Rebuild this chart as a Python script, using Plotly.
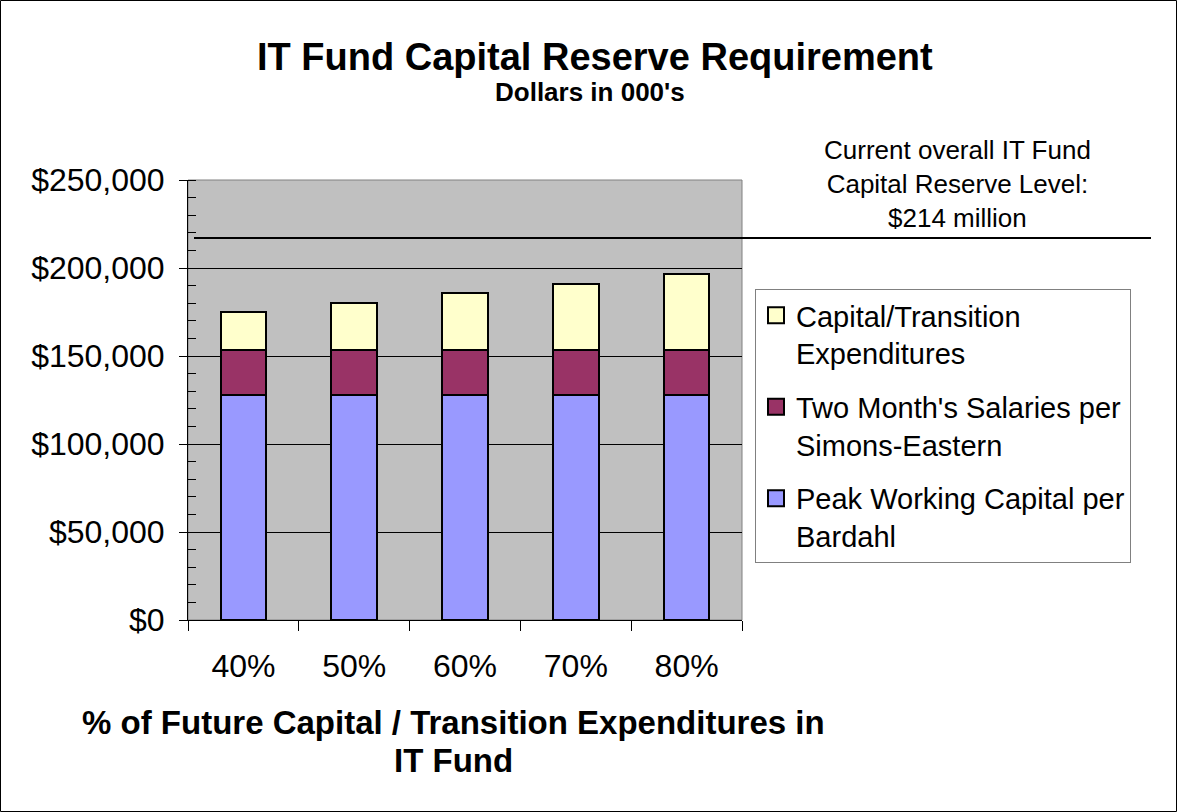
import plotly.graph_objects as go

categories = ["40%", "50%", "60%", "70%", "80%"]
peak_working_capital = [127600, 127600, 127600, 127600, 127600]
two_months_salaries = [25800, 25800, 25800, 25800, 25800]
capital_transition = [21600, 26800, 32200, 37600, 43000]
reserve_level = 217000
y_tickvals = [0, 50000, 100000, 150000, 200000, 250000]
y_ticktext = ["$0", "$50,000", "$100,000", "$150,000", "$200,000", "$250,000"]

series_names = ["Peak Working Capital per<br>Bardahl",
                "Two Month's Salaries per<br>Simons-Eastern",
                "Capital/Transition<br>Expenditures"]
series_colors = ["#9999FF", "#993366", "#FFFFCC"]
series_values = [peak_working_capital, two_months_salaries, capital_transition]

FONT = "Liberation Sans, Arial, sans-serif"

fig = go.Figure()
for name, color, vals in zip(series_names, series_colors, series_values):
    fig.add_trace(go.Bar(x=categories, y=vals, name=name, showlegend=False,
                         legendgroup=name,
                         marker=dict(color=color, line=dict(color="black", width=2))))

# legend entries (larger square swatches), top to bottom
for name, color in reversed(list(zip(series_names, series_colors))):
    fig.add_trace(go.Scatter(x=[categories[0]], y=[None], mode="markers", name=name,
                             legendgroup=name, showlegend=True, hoverinfo="skip",
                             marker=dict(symbol="square", size=16, color=color,
                                         line=dict(color="black", width=2))))

L, R, T, B = 188, 742, 180, 620
W, H = 1177, 812
pw, ph = R - L, B - T

def px_x(x):
    return (x - L) / pw

def px_y(y):
    return (B - y) / ph

fig.update_layout(
    width=W, height=H,
    margin=dict(l=L, r=W - R, t=T, b=H - B),
    barmode="stack",
    bargap=0.59,
    paper_bgcolor="white",
    plot_bgcolor="#C0C0C0",
    font=dict(family=FONT, color="black"),
    showlegend=True,
    legend=dict(x=px_x(755), y=px_y(289), xanchor="left", yanchor="top",
                bgcolor="white", bordercolor="#808080", borderwidth=1,
                font=dict(size=29, family=FONT), valign="top",
                traceorder="grouped", tracegroupgap=13, itemsizing="trace"),
    xaxis=dict(type="category", tickson="boundaries", ticks="outside", ticklen=10,
               tickcolor="black", tickwidth=1, showline=True, linecolor="black",
               linewidth=1, showgrid=False, tickfont=dict(size=32, family=FONT),
               ticklabelstandoff=18),
    yaxis=dict(range=[0, 250000], tickvals=y_tickvals, ticktext=y_ticktext,
               ticks="outside", ticklen=8, tickcolor="black", tickwidth=1,
               showline=True, linecolor="black", linewidth=1,
               showgrid=True, gridcolor="black", gridwidth=1,
               tickfont=dict(size=32, family=FONT), ticklabelstandoff=8,
               zeroline=False,
               minor=dict(dtick=10000, ticks="inside", ticklen=8, tickcolor="black",
                          showgrid=False)),
)

shapes = [
    # plot area border
    dict(type="rect", xref="paper", yref="paper", x0=0, x1=1, y0=0, y1=1,
         line=dict(color="#808080", width=1), layer="below"),
    # reserve level line
    dict(type="line", xref="paper", yref="y", x0=px_x(194), x1=px_x(1151),
         y0=reserve_level, y1=reserve_level, line=dict(color="black", width=2)),
    # outer chart border
    dict(type="rect", xref="paper", yref="paper", x0=px_x(0.5), x1=px_x(1176.5),
         y0=px_y(811.5), y1=px_y(0.5), line=dict(color="black", width=1)),
]
fig.update_layout(shapes=shapes)

annotations = [
    dict(text="<b>IT Fund Capital Reserve Requirement</b>", x=px_x(595), y=px_y(57),
         xref="paper", yref="paper", showarrow=False, font=dict(size=38, family=FONT),
         xanchor="center", yanchor="middle"),
    dict(text="<b>Dollars in 000's</b>", x=px_x(590), y=px_y(92),
         xref="paper", yref="paper", showarrow=False, font=dict(size=26, family=FONT),
         xanchor="center", yanchor="middle"),
    dict(text="Current overall IT Fund<br>Capital Reserve Level:<br>$214 million",
         x=px_x(957), y=px_y(184), xref="paper", yref="paper", showarrow=False,
         font=dict(size=26, family=FONT), xanchor="center", yanchor="middle"),
    dict(text="<b>% of Future Capital / Transition Expenditures in</b>", x=px_x(453), y=px_y(722),
         xref="paper", yref="paper", showarrow=False, font=dict(size=33, family=FONT),
         xanchor="center", yanchor="middle"),
    dict(text="<b>IT Fund</b>", x=px_x(453), y=px_y(760),
         xref="paper", yref="paper", showarrow=False, font=dict(size=33, family=FONT),
         xanchor="center", yanchor="middle"),
]
fig.update_layout(annotations=annotations)

fig.write_html("out.html")
